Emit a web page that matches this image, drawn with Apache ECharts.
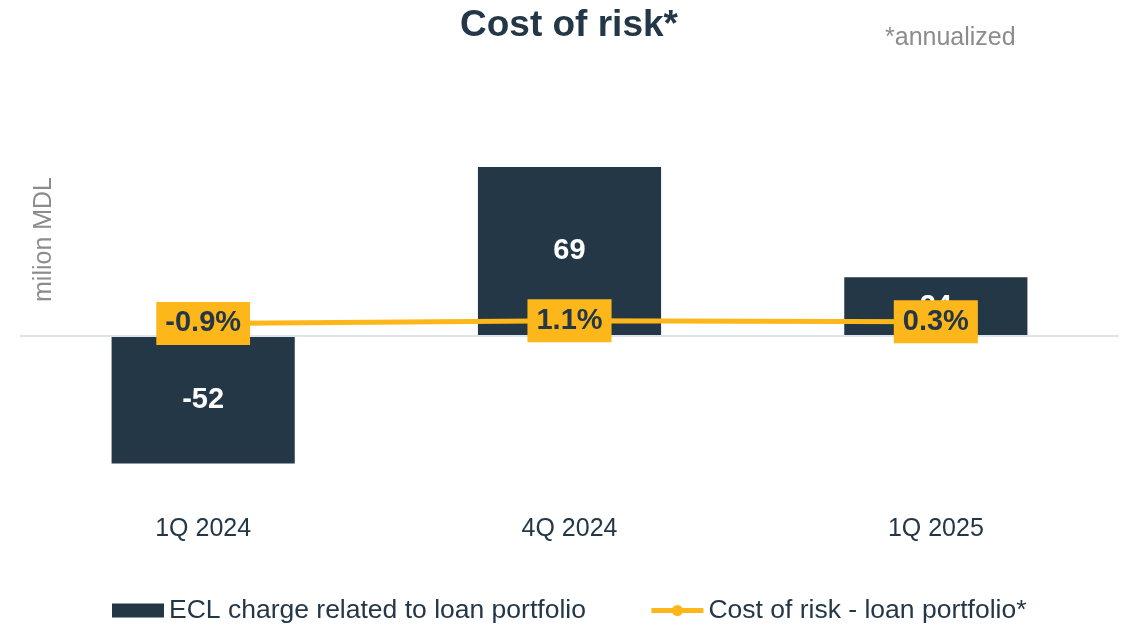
<!DOCTYPE html>
<html>
<head>
<meta charset="utf-8">
<title>Cost of risk</title>
<script src="https://cdn.jsdelivr.net/npm/echarts@6/dist/echarts.min.js"></script>
<style>
  html, body { margin: 0; padding: 0; background: #ffffff; }
  #chart { width: 1127px; height: 634px; }
</style>
</head>
<body>
<div id="chart"></div>
<script>
// Quarters shown on the category axis
const categories = ['1Q 2024', '4Q 2024', '1Q 2025'];
// ECL charge related to loan portfolio, milion MDL
const eclCharge = [-52, 69, 24];
// Annualized cost of risk for the loan portfolio, %
const costOfRisk = [-0.9, 1.1, 0.3];

const navy = '#243746';
const amber = '#FDB71A';
const fontFamily = '"Liberation Sans", Arial, Helvetica, sans-serif';

const chart = echarts.init(document.getElementById('chart'));

chart.setOption({
  animation: false,
  backgroundColor: '#ffffff',
  textStyle: { fontFamily: fontFamily },
  title: {
    text: 'Cost of risk*',
    left: 455,
    top: 2,
    textStyle: { fontFamily: fontFamily, fontSize: 37, fontWeight: 'bold', color: navy }
  },
  graphic: [
    {
      type: 'text',
      left: 885,
      top: 26,
      style: { text: '*annualized', font: '25px ' + fontFamily, fill: '#8c8c8c' }
    },
    {
      type: 'text',
      x: 32,
      y: 302,
      rotation: Math.PI / 2,
      style: { text: 'milion MDL', font: '25px ' + fontFamily, fill: '#8c8c8c', textAlign: 'left', textVerticalAlign: 'top' }
    }
  ],
  legend: {
    left: 107,
    top: 592,
    itemGap: 63,
    itemWidth: 52,
    itemHeight: 14,
    textStyle: { fontFamily: fontFamily, fontSize: 26.5, color: navy },
    data: [
      { name: 'ECL charge related to loan portfolio', icon: 'rect' },
      { name: 'Cost of risk - loan portfolio*', lineStyle: { width: 5 } }
    ]
  },
  grid: { left: 20, right: 8, top: 140, bottom: 124 },
  xAxis: {
    type: 'category',
    data: categories,
    position: 'bottom',
    axisLine: { show: false, onZero: false },
    axisTick: { show: false },
    axisLabel: { fontFamily: fontFamily, fontSize: 25, color: navy, margin: 7 }
  },
  yAxis: [
    { type: 'value', min: -71, max: 80, show: false, splitLine: { show: false } },
    { type: 'value', min: -134, max: 130, show: false, splitLine: { show: false } }
  ],
  series: [
    {
      name: 'ECL charge related to loan portfolio',
      type: 'bar',
      yAxisIndex: 0,
      data: eclCharge,
      barWidth: '50%',
      itemStyle: { color: navy },
      label: {
        show: true,
        position: 'inside',
        color: '#ffffff',
        fontFamily: fontFamily,
        fontSize: 29,
        fontWeight: 'bold'
      },
      markLine: {
        silent: true,
        symbol: 'none',
        label: { show: false },
        lineStyle: { color: '#dce4ec', width: 2, type: 'solid' },
        data: [{ yAxis: 0 }]
      },
      z: 2
    },
    {
      name: 'Cost of risk - loan portfolio*',
      type: 'line',
      yAxisIndex: 1,
      data: costOfRisk,
      symbol: 'circle',
      symbolSize: 10,
      itemStyle: { color: amber },
      lineStyle: { color: amber, width: 5 },
      label: {
        show: true,
        position: 'inside',
        formatter: function (p) { return p.value.toFixed(1) + '%'; },
        backgroundColor: amber,
        color: navy,
        fontFamily: fontFamily,
        fontSize: 29,
        fontWeight: 'bold',
        padding: [7, 9, 7, 9]
      },
      z: 5
    }
  ]
});
</script>
</body>
</html>
